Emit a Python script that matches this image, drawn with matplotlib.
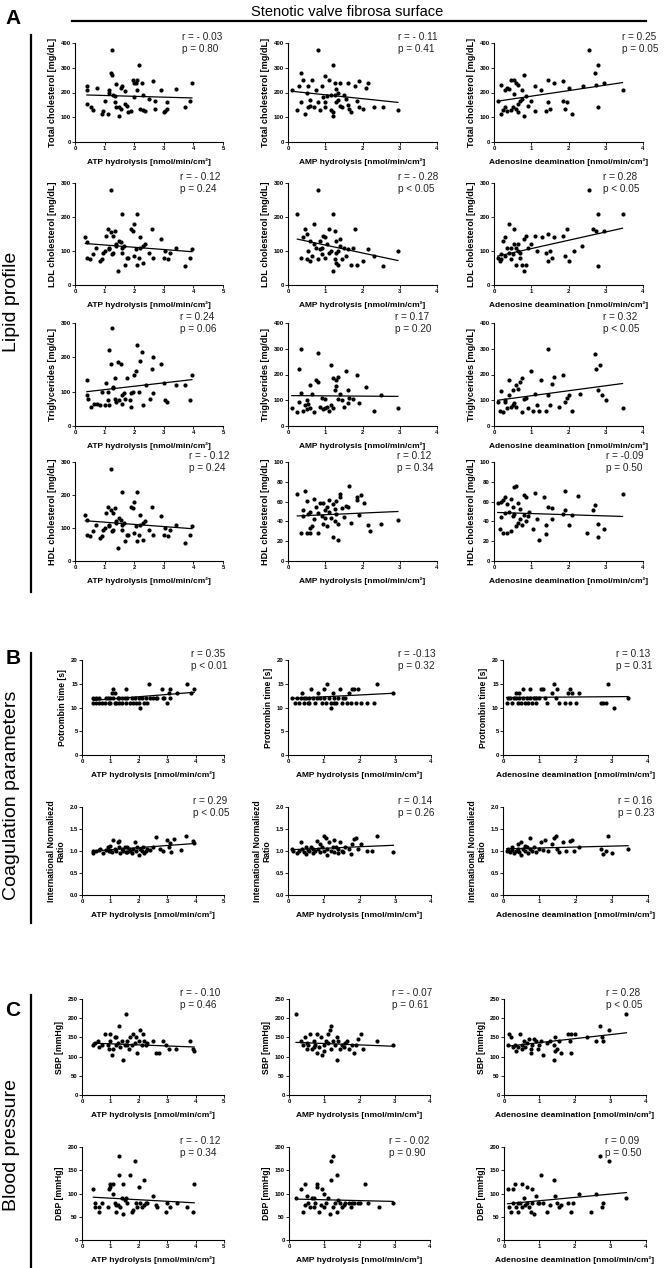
import matplotlib.pyplot as plt

# ---------------- data (x, y) per panel ----------------
# Row 1 - total cholesterol
tc_atp = [(0.4, 225), (0.4, 210), (0.4, 155), (0.55, 140), (0.6, 130), (0.75, 220), (0.9, 115), (0.95, 125),
          (1.0, 165), (1.1, 115), (1.15, 200), (1.15, 210), (1.2, 280), (1.25, 372), (1.25, 270), (1.3, 190),
          (1.35, 160), (1.35, 185), (1.4, 235), (1.4, 140), (1.5, 140), (1.5, 105), (1.55, 135), (1.6, 225),
          (1.7, 155), (1.7, 205), (1.75, 145), (1.8, 120), (1.9, 125), (1.95, 250), (2.0, 180), (2.05, 240),
          (2.1, 250), (2.1, 210), (2.15, 310), (2.2, 135), (2.25, 240), (2.3, 190), (2.3, 130), (2.35, 125),
          (2.5, 175), (2.65, 245), (2.7, 165), (2.7, 135), (2.9, 210), (3.0, 120), (3.05, 125), (3.1, 135),
          (3.1, 160), (3.4, 215), (3.7, 140), (3.9, 165), (3.95, 240), (2.0, 240), (1.55, 220)]
tc_amp = [(0.1, 210), (0.25, 130), (0.3, 225), (0.35, 280), (0.35, 160), (0.4, 250), (0.45, 115), (0.5, 200),
          (0.55, 225), (0.55, 140), (0.6, 170), (0.65, 250), (0.7, 140), (0.75, 210), (0.8, 370), (0.8, 160),
          (0.85, 130), (0.9, 225), (0.95, 180), (1.0, 265), (1.0, 140), (1.05, 185), (1.1, 250), (1.15, 190),
          (1.15, 130), (1.2, 310), (1.2, 105), (1.2, 120), (1.25, 240), (1.3, 160), (1.3, 215), (1.35, 200),
          (1.35, 170), (1.4, 240), (1.4, 145), (1.45, 140), (1.5, 190), (1.55, 175), (1.6, 240), (1.6, 150),
          (1.65, 135), (1.7, 120), (1.8, 225), (1.85, 165), (1.9, 140), (1.9, 245), (2.0, 135), (2.1, 220),
          (2.15, 240), (2.3, 140), (2.55, 140), (2.95, 130), (1.0, 160), (0.6, 145), (1.25, 190)]
tc_ada = [(0.1, 165), (0.2, 115), (0.25, 130), (0.3, 210), (0.3, 140), (0.35, 220), (0.35, 125), (0.4, 215),
          (0.45, 250), (0.45, 130), (0.5, 140), (0.55, 250), (0.55, 195), (0.6, 240), (0.6, 135), (0.65, 230),
          (0.65, 155), (0.7, 165), (0.75, 210), (0.75, 175), (0.8, 270), (0.8, 105), (0.85, 185), (0.9, 145),
          (1.0, 165), (1.1, 225), (1.1, 125), (1.25, 210), (1.4, 125), (1.45, 250), (1.45, 160), (1.5, 135),
          (1.6, 240), (1.85, 245), (1.85, 165), (1.9, 135), (1.95, 160), (2.0, 220), (2.1, 115), (2.4, 225),
          (2.55, 370), (2.7, 280), (2.8, 310), (2.8, 140), (2.75, 230), (2.95, 240), (3.45, 210), (0.2, 230),
          (0.65, 120)]

# Row 2 - LDL cholesterol
ldl_atp = [(0.35, 140), (0.4, 125), (0.4, 80), (0.5, 75), (0.6, 90), (0.7, 110), (0.85, 70), (0.9, 75),
           (0.95, 95), (1.0, 100), (1.05, 145), (1.1, 165), (1.15, 110), (1.15, 105), (1.2, 280), (1.2, 155),
           (1.25, 90), (1.3, 145), (1.3, 95), (1.35, 160), (1.4, 115), (1.4, 120), (1.45, 40), (1.5, 130),
           (1.55, 125), (1.6, 210), (1.6, 95), (1.65, 115), (1.7, 60), (1.75, 80), (1.8, 80), (1.9, 165),
           (1.95, 160), (2.0, 180), (2.0, 85), (2.05, 105), (2.1, 210), (2.1, 60), (2.15, 80), (2.2, 110),
           (2.2, 140), (2.3, 65), (2.35, 120), (2.5, 95), (2.6, 165), (2.65, 80), (2.9, 135), (3.0, 80),
           (3.05, 100), (3.15, 75), (3.2, 95), (3.4, 110), (3.7, 55), (3.9, 80), (3.95, 105), (1.6, 110),
           (2.3, 115)]
ldl_amp = [(0.25, 210), (0.35, 80), (0.4, 140), (0.45, 165), (0.5, 150), (0.5, 75), (0.55, 100), (0.6, 130),
           (0.6, 70), (0.65, 85), (0.7, 120), (0.7, 180), (0.75, 110), (0.8, 280), (0.8, 75), (0.85, 130),
           (0.85, 105), (0.9, 90), (0.95, 145), (1.0, 80), (1.0, 140), (1.05, 120), (1.1, 165), (1.1, 95),
           (1.15, 100), (1.2, 210), (1.2, 40), (1.25, 160), (1.25, 75), (1.3, 130), (1.3, 95), (1.35, 60),
           (1.35, 100), (1.4, 135), (1.4, 115), (1.45, 75), (1.5, 110), (1.55, 85), (1.6, 105), (1.7, 60),
           (1.75, 110), (1.8, 165), (1.85, 60), (2.0, 70), (2.15, 105), (2.3, 85), (2.55, 55), (2.95, 100),
           (0.9, 110), (1.3, 65)]
ldl_ada = [(0.1, 80), (0.15, 70), (0.2, 90), (0.25, 130), (0.3, 85), (0.3, 140), (0.35, 110), (0.4, 95),
           (0.4, 180), (0.45, 75), (0.45, 110), (0.5, 90), (0.55, 120), (0.55, 165), (0.6, 60), (0.6, 110),
           (0.65, 120), (0.7, 80), (0.7, 95), (0.75, 60), (0.8, 135), (0.8, 40), (0.85, 60), (0.85, 145),
           (0.9, 110), (1.0, 120), (1.1, 145), (1.15, 100), (1.3, 140), (1.4, 95), (1.45, 70), (1.45, 150),
           (1.5, 100), (1.55, 80), (1.6, 140), (1.85, 145), (1.9, 85), (1.95, 165), (2.0, 70), (2.15, 100),
           (2.35, 115), (2.55, 280), (2.65, 165), (2.75, 160), (2.8, 210), (2.8, 55), (2.95, 160), (3.45, 210),
           (0.2, 75), (0.65, 100)]

# Row 3 - triglycerides
tg_atp = [(0.4, 135), (0.4, 90), (0.45, 80), (0.55, 55), (0.65, 65), (0.75, 65), (0.85, 60), (0.9, 100),
          (1.0, 60), (1.05, 125), (1.1, 100), (1.15, 220), (1.15, 60), (1.2, 180), (1.25, 285), (1.3, 110),
          (1.3, 115), (1.35, 80), (1.35, 140), (1.4, 70), (1.45, 185), (1.5, 75), (1.55, 180), (1.6, 65),
          (1.65, 95), (1.7, 80), (1.75, 140), (1.85, 75), (1.9, 55), (1.9, 95), (1.95, 100), (2.0, 150),
          (2.05, 160), (2.1, 235), (2.15, 100), (2.2, 190), (2.25, 215), (2.3, 60), (2.4, 120), (2.55, 80),
          (2.6, 165), (2.65, 200), (2.65, 95), (2.9, 180), (3.0, 125), (3.05, 75), (3.1, 70), (3.4, 120),
          (3.7, 120), (3.9, 75), (3.95, 150), (1.1, 75), (1.6, 90)]
tg_amp = [(0.1, 70), (0.25, 55), (0.3, 220), (0.3, 95), (0.35, 300), (0.35, 130), (0.4, 60), (0.45, 80),
          (0.5, 65), (0.55, 85), (0.6, 160), (0.6, 70), (0.65, 125), (0.7, 55), (0.75, 180), (0.8, 285),
          (0.8, 170), (0.85, 75), (0.9, 110), (0.95, 65), (1.0, 70), (1.05, 75), (1.1, 60), (1.15, 235),
          (1.15, 80), (1.2, 70), (1.2, 185), (1.25, 140), (1.3, 180), (1.3, 155), (1.35, 190), (1.35, 105),
          (1.4, 125), (1.45, 100), (1.5, 75), (1.55, 215), (1.6, 90), (1.6, 140), (1.65, 110), (1.75, 105),
          (1.85, 200), (1.9, 90), (2.1, 150), (2.3, 60), (2.5, 120), (2.95, 70), (1.0, 105), (0.5, 100)]
tg_ada = [(0.1, 95), (0.15, 60), (0.2, 135), (0.25, 55), (0.3, 95), (0.35, 70), (0.4, 120), (0.4, 180),
          (0.45, 75), (0.5, 140), (0.5, 80), (0.55, 90), (0.6, 160), (0.6, 75), (0.65, 145), (0.7, 170),
          (0.75, 185), (0.75, 55), (0.8, 105), (0.85, 110), (0.9, 70), (1.0, 215), (1.05, 60), (1.1, 125),
          (1.15, 80), (1.2, 60), (1.25, 180), (1.4, 60), (1.45, 300), (1.45, 120), (1.5, 80), (1.55, 165),
          (1.6, 190), (1.75, 75), (1.85, 200), (1.9, 95), (1.95, 110), (2.0, 120), (2.1, 60), (2.3, 125),
          (2.7, 280), (2.75, 220), (2.85, 235), (2.8, 140), (2.9, 120), (3.0, 100), (3.45, 70), (0.3, 100)]

# Row 4 - HDL cholesterol (first panel is the same as the LDL one in the figure)
hdl_atp = ldl_atp
hdl_amp = [(0.25, 68), (0.35, 28), (0.4, 45), (0.4, 52), (0.45, 71), (0.5, 61), (0.5, 28), (0.55, 47),
           (0.6, 33), (0.6, 28), (0.65, 35), (0.7, 42), (0.7, 63), (0.75, 55), (0.8, 48), (0.8, 28),
           (0.85, 59), (0.9, 45), (0.95, 37), (0.95, 59), (1.0, 43), (1.05, 55), (1.05, 35), (1.1, 49),
           (1.1, 62), (1.15, 43), (1.2, 58), (1.2, 24), (1.25, 40), (1.25, 53), (1.3, 61), (1.3, 47),
           (1.35, 21), (1.35, 37), (1.4, 65), (1.4, 68), (1.45, 54), (1.5, 44), (1.55, 56), (1.6, 55),
           (1.65, 76), (1.7, 38), (1.85, 65), (1.85, 62), (1.9, 46), (1.95, 67), (2.05, 59), (2.15, 36),
           (2.2, 30), (2.5, 37), (2.95, 41), (1.0, 52), (0.6, 50)]
hdl_ada = [(0.1, 59), (0.15, 32), (0.2, 60), (0.2, 44), (0.25, 62), (0.25, 28), (0.3, 65), (0.3, 48),
           (0.35, 28), (0.35, 58), (0.4, 50), (0.45, 63), (0.45, 30), (0.5, 45), (0.5, 55), (0.55, 75),
           (0.55, 47), (0.6, 76), (0.6, 35), (0.65, 38), (0.65, 59), (0.7, 42), (0.7, 53), (0.75, 36),
           (0.8, 67), (0.8, 46), (0.85, 65), (0.85, 40), (0.9, 45), (0.95, 50), (1.05, 32), (1.1, 69),
           (1.15, 42), (1.2, 21), (1.35, 65), (1.4, 27), (1.4, 36), (1.45, 55), (1.55, 42), (1.55, 54),
           (1.85, 47), (1.9, 71), (1.9, 52), (2.0, 36), (2.1, 46), (2.25, 66), (2.5, 28), (2.65, 52),
           (2.7, 57), (2.8, 37), (2.8, 24), (2.95, 32), (3.45, 68)]

# Row 5 - prothrombin time
pt_atp = [(0.4, 12), (0.4, 11), (0.5, 11), (0.6, 12), (0.6, 11), (0.7, 11), (0.8, 11), (0.85, 12), (0.9, 12),
          (0.95, 11), (1.0, 12), (1.05, 13), (1.1, 14), (1.1, 12), (1.15, 11), (1.15, 13), (1.2, 11),
          (1.25, 12), (1.3, 12), (1.3, 11), (1.4, 12), (1.4, 11), (1.5, 12), (1.55, 14), (1.55, 11), (1.6, 12),
          (1.7, 11), (1.75, 12), (1.8, 11), (1.85, 12), (1.9, 11), (2.0, 12), (2.0, 11), (2.05, 10), (2.1, 12),
          (2.2, 11), (2.25, 12), (2.3, 11), (2.35, 15), (2.4, 12), (2.5, 12), (2.6, 12), (2.65, 12), (2.8, 14),
          (2.85, 12), (2.9, 12), (3.0, 11), (3.05, 13), (3.1, 14), (3.1, 12), (3.35, 13), (3.7, 15),
          (3.85, 13), (3.95, 14), (0.5, 12), (1.0, 11)]
pt_amp = [(0.1, 12), (0.2, 11), (0.25, 12), (0.3, 11), (0.35, 12), (0.4, 13), (0.45, 12), (0.45, 11),
          (0.5, 12), (0.55, 11), (0.6, 12), (0.65, 14), (0.7, 12), (0.75, 11), (0.8, 12), (0.85, 13), (0.9, 12),
          (0.95, 11), (1.0, 14), (1.0, 12), (1.05, 11), (1.1, 15), (1.15, 12), (1.2, 10), (1.2, 11), (1.25, 13),
          (1.3, 12), (1.35, 11), (1.4, 12), (1.45, 14), (1.5, 11), (1.55, 12), (1.6, 12), (1.65, 11), (1.7, 13),
          (1.75, 11), (1.8, 14), (1.85, 14), (1.9, 11), (1.95, 14), (2.05, 11), (2.2, 11), (2.4, 11), (2.5, 15),
          (2.95, 13), (0.6, 11), (1.3, 11)]
pt_ada = [(0.1, 11), (0.15, 12), (0.2, 12), (0.25, 11), (0.3, 12), (0.35, 13), (0.35, 12), (0.4, 11),
          (0.45, 13), (0.45, 12), (0.5, 11), (0.55, 12), (0.55, 14), (0.6, 11), (0.65, 12), (0.7, 11),
          (0.75, 14), (0.75, 12), (0.8, 11), (0.85, 12), (0.9, 11), (1.0, 12), (1.05, 14), (1.1, 14), (1.15, 12),
          (1.2, 11), (1.35, 13), (1.4, 15), (1.45, 12), (1.5, 14), (1.55, 11), (1.7, 11), (1.8, 13), (1.85, 14),
          (1.85, 11), (1.9, 13), (2.0, 11), (2.1, 13), (2.7, 11), (2.75, 11), (2.85, 11), (2.9, 15), (3.05, 10),
          (3.45, 12), (0.9, 12)]

# Row 6 - INR
inr_atp = [(0.4, 1.0), (0.4, 0.95), (0.5, 1.0), (0.6, 1.03), (0.65, 1.05), (0.75, 0.95), (0.85, 1.02),
           (0.9, 1.08), (0.95, 1.0), (1.0, 1.12), (1.05, 0.97), (1.1, 1.25), (1.15, 1.05), (1.2, 1.0),
           (1.25, 1.2), (1.3, 1.22), (1.3, 1.1), (1.35, 0.95), (1.4, 1.05), (1.45, 1.0), (1.5, 1.08),
           (1.55, 0.97), (1.6, 1.1), (1.65, 1.05), (1.7, 1.0), (1.75, 0.95), (1.8, 1.05), (1.85, 1.2),
           (1.9, 1.0), (1.95, 1.08), (2.0, 0.92), (2.05, 1.05), (2.1, 1.0), (2.15, 1.1), (2.2, 0.95),
           (2.25, 1.0), (2.3, 1.05), (2.4, 1.02), (2.5, 1.08), (2.6, 1.32), (2.75, 1.05), (2.85, 1.0),
           (3.0, 1.25), (3.05, 1.1), (3.1, 1.18), (3.15, 0.98), (3.25, 1.28), (3.5, 1.02), (3.65, 1.35),
           (3.9, 1.22), (3.95, 1.18), (1.0, 1.0), (1.6, 0.98)]
inr_amp = [(0.1, 1.05), (0.15, 1.0), (0.25, 0.95), (0.3, 1.0), (0.35, 1.2), (0.4, 1.05), (0.45, 0.97),
           (0.5, 1.1), (0.5, 0.93), (0.55, 1.03), (0.6, 1.0), (0.65, 1.1), (0.7, 1.05), (0.7, 0.95),
           (0.75, 1.0), (0.8, 1.22), (0.85, 1.05), (0.9, 0.97), (0.95, 1.1), (1.0, 1.33), (1.0, 1.0),
           (1.05, 1.3), (1.1, 1.05), (1.1, 0.92), (1.15, 1.2), (1.2, 1.0), (1.25, 1.08), (1.3, 1.25),
           (1.3, 0.97), (1.35, 1.1), (1.4, 1.05), (1.45, 1.2), (1.5, 1.0), (1.55, 0.97), (1.6, 1.1),
           (1.7, 1.05), (1.75, 0.93), (1.8, 1.15), (1.85, 1.28), (1.9, 1.3), (1.95, 1.05), (2.05, 1.15),
           (2.2, 1.0), (2.35, 1.0), (2.5, 1.33), (2.95, 0.98), (0.9, 1.15), (1.4, 0.95)]
inr_ada = [(0.1, 1.0), (0.15, 1.05), (0.2, 0.97), (0.25, 1.02), (0.25, 1.08), (0.3, 0.95), (0.35, 1.0),
           (0.4, 1.15), (0.4, 1.05), (0.45, 0.98), (0.5, 1.2), (0.5, 0.92), (0.55, 1.05), (0.6, 1.0),
           (0.65, 1.1), (0.7, 0.95), (0.75, 1.3), (0.75, 1.05), (0.8, 1.0), (0.85, 1.1), (0.9, 0.97),
           (1.0, 1.05), (1.05, 1.2), (1.1, 1.02), (1.15, 1.25), (1.25, 1.0), (1.35, 1.15), (1.4, 1.3),
           (1.45, 1.33), (1.5, 1.05), (1.55, 0.97), (1.65, 1.2), (1.75, 1.0), (1.85, 1.22), (1.9, 1.25),
           (1.95, 1.0), (2.1, 1.1), (2.7, 1.05), (2.75, 0.93), (2.85, 1.0), (2.9, 1.33), (3.0, 0.95),
           (3.45, 1.05), (0.6, 1.12)]

# Row 7 - systolic blood pressure
sbp_atp = [(0.4, 130), (0.45, 135), (0.55, 140), (0.6, 125), (0.7, 130), (0.8, 160), (0.9, 130), (0.95, 120),
           (1.0, 160), (1.0, 140), (1.05, 105), (1.1, 120), (1.15, 150), (1.2, 130), (1.25, 135), (1.3, 180),
           (1.35, 125), (1.4, 140), (1.45, 90), (1.5, 130), (1.55, 210), (1.6, 140), (1.65, 120), (1.7, 150),
           (1.75, 130), (1.8, 160), (1.85, 135), (1.9, 150), (1.95, 110), (2.0, 140), (2.05, 170), (2.1, 130),
           (2.15, 160), (2.2, 140), (2.25, 130), (2.5, 140), (2.6, 110), (2.7, 110), (2.85, 140), (2.95, 130),
           (3.05, 120), (3.3, 120), (3.8, 140), (3.9, 120), (3.95, 115), (1.2, 150), (1.6, 130), (2.3, 135)]
sbp_amp = [(0.2, 210), (0.35, 140), (0.4, 130), (0.45, 150), (0.5, 120), (0.5, 135), (0.55, 130), (0.6, 160),
           (0.65, 120), (0.7, 140), (0.75, 130), (0.8, 160), (0.8, 110), (0.85, 125), (0.9, 150), (0.95, 105),
           (1.0, 130), (1.0, 115), (1.05, 140), (1.1, 160), (1.15, 170), (1.2, 180), (1.2, 120), (1.25, 140),
           (1.3, 130), (1.35, 90), (1.35, 150), (1.4, 140), (1.45, 120), (1.5, 130), (1.55, 125), (1.6, 135),
           (1.65, 140), (1.7, 120), (1.8, 130), (1.85, 110), (1.9, 130), (1.95, 145), (2.05, 160), (2.1, 120),
           (2.5, 140), (2.95, 130), (0.7, 125), (1.1, 135)]
sbp_ada = [(0.1, 130), (0.15, 160), (0.2, 150), (0.25, 125), (0.3, 130), (0.35, 115), (0.4, 125), (0.45, 160),
           (0.5, 130), (0.5, 120), (0.55, 140), (0.6, 125), (0.65, 135), (0.7, 145), (0.75, 120), (0.75, 110),
           (0.8, 130), (0.85, 145), (0.9, 140), (0.95, 120), (1.0, 130), (1.05, 140), (1.1, 105), (1.2, 135),
           (1.3, 140), (1.4, 130), (1.45, 150), (1.5, 120), (1.55, 140), (1.6, 110), (1.4, 90), (1.8, 160),
           (1.85, 140), (1.9, 160), (2.0, 160), (2.35, 150), (2.6, 140), (2.7, 180), (2.75, 150), (2.8, 140),
           (2.95, 170), (3.45, 210), (1.45, 115), (1.9, 110)]

# Row 8 - diastolic blood pressure
dbp_atp = [(0.4, 110), (0.45, 80), (0.45, 70), (0.6, 60), (0.6, 70), (0.7, 80), (0.9, 70), (0.95, 110),
           (1.0, 120), (1.0, 115), (1.1, 120), (1.1, 100), (1.15, 80), (1.2, 60), (1.25, 75), (1.3, 180),
           (1.3, 140), (1.35, 70), (1.4, 90), (1.45, 120), (1.45, 55), (1.5, 85), (1.55, 90), (1.6, 80),
           (1.7, 140), (1.75, 60), (1.8, 65), (1.85, 170), (1.9, 80), (1.95, 70), (2.0, 115), (2.05, 80),
           (2.1, 70), (2.2, 130), (2.2, 75), (2.3, 80), (2.5, 95), (2.6, 75), (2.65, 70), (2.95, 60), (3.0, 80),
           (3.1, 70), (3.35, 80), (3.7, 70), (3.9, 60), (3.95, 120), (1.2, 75), (2.25, 80)]
dbp_amp = [(0.2, 90), (0.35, 110), (0.4, 60), (0.45, 120), (0.45, 75), (0.5, 95), (0.55, 80), (0.6, 70),
           (0.65, 90), (0.7, 70), (0.75, 80), (0.8, 120), (0.8, 115), (0.85, 60), (0.9, 75), (0.95, 110),
           (1.0, 70), (1.05, 80), (1.1, 90), (1.15, 55), (1.2, 130), (1.2, 170), (1.25, 180), (1.25, 70),
           (1.3, 80), (1.35, 140), (1.35, 60), (1.4, 85), (1.45, 80), (1.5, 70), (1.55, 75), (1.6, 80),
           (1.7, 80), (1.75, 70), (1.8, 80), (1.85, 80), (1.95, 80), (2.0, 80), (2.15, 120), (2.25, 80),
           (2.55, 70), (2.95, 80), (1.0, 100), (0.7, 90)]
dbp_ada = [(0.1, 110), (0.15, 70), (0.2, 60), (0.25, 110), (0.25, 80), (0.3, 120), (0.35, 70), (0.4, 60),
           (0.45, 80), (0.5, 120), (0.5, 70), (0.55, 90), (0.6, 75), (0.65, 115), (0.65, 80), (0.7, 70),
           (0.75, 60), (0.8, 110), (0.8, 80), (0.85, 55), (0.9, 95), (0.95, 80), (1.05, 140), (1.1, 80),
           (1.2, 60), (1.3, 75), (1.4, 130), (1.45, 95), (1.5, 80), (1.55, 70), (1.6, 75), (1.8, 80), (1.9, 60),
           (1.95, 80), (2.1, 100), (2.45, 60), (2.6, 100), (2.7, 180), (2.75, 70), (2.8, 80), (2.95, 170),
           (3.45, 90), (0.4, 80), (1.0, 80)]

# regression line ends (y at smallest x, y at largest x)
fit_tc = [(190, 178), (205, 160), (165, 240)]
fit_ldl = [(122, 98), (135, 72), (85, 167)]
fit_tg = [(100, 135), (118, 115), (100, 165)]
fit_hdl = [(122, 98), (45.5, 50), (49, 45)]
fit_pt = [(11.5, 13.2), (11.9, 13.0), (12.1, 12.3)]
fit_inr = [(1.0, 1.17), (1.03, 1.13), (1.05, 1.12)]
fit_sbp = [(135, 125), (137, 127), (127, 162)]
fit_dbp = [(92, 80), (88, 83), (78, 102)]

# r / p labels
stats = [
    ['r = - 0.03\np = 0.80', 'r = - 0.11\np = 0.41', 'r = 0.25\np = 0.05'],
    ['r = - 0.12\np = 0.24', 'r = - 0.28\np < 0.05', 'r = 0.28\np < 0.05'],
    ['r = 0.24\np = 0.06', 'r = 0.17\np = 0.20', 'r = 0.32\np < 0.05'],
    ['r = - 0.12\np = 0.24', 'r = 0.12\np = 0.34', 'r = -0.09\np = 0.50'],
    ['r = 0.35\np < 0.01', 'r = -0.13\np = 0.32', 'r = 0.13\np = 0.31'],
    ['r = 0.29\np < 0.05', 'r = 0.14\np = 0.26', 'r = 0.16\np = 0.23'],
    ['r = - 0.10\np = 0.46', 'r = - 0.07\np = 0.61', 'r = 0.28\np < 0.05'],
    ['r = - 0.12\np = 0.34', 'r = - 0.02\np = 0.90', 'r = 0.09\np = 0.50'],
]

ylabels = [
    ['Total cholesterol [mg/dL]'] * 3,
    ['LDL cholesterol [mg/dL]'] * 3,
    ['Triglycerides [mg/dL]'] * 3,
    ['HDL cholesterol [mg/dL]'] * 3,
    ['Potrombin time [s]', 'Protrombin time [s]', 'Protrombin time [s]'],
    ['International Normaliezd\nRatio'] * 3,
    ['SBP [mmHg]'] * 3,
    ['DBP [mmHg]'] * 3,
]
xlabels = ['ATP hydrolysis [nmol/min/cm²]', 'AMP hydrolysis [nmol/min/cm²]',
           'Adenosine deamination [nmol/min/cm²]']

# y ticks per panel
yticks = [
    [range(0, 401, 100)] * 3,
    [range(0, 301, 100)] * 3,
    [range(0, 301, 100), range(0, 401, 100), range(0, 401, 100)],
    [range(0, 301, 100), range(0, 101, 20), range(0, 101, 20)],
    [range(0, 21, 5)] * 3,
    [[0.0, 0.5, 1.0, 1.5, 2.0]] * 3,
    [range(0, 251, 50)] * 3,
    [range(0, 201, 50)] * 3,
]
xmax = [5, 4, 4]

panels = [[tc_atp, tc_amp, tc_ada], [ldl_atp, ldl_amp, ldl_ada], [tg_atp, tg_amp, tg_ada],
          [hdl_atp, hdl_amp, hdl_ada], [pt_atp, pt_amp, pt_ada], [inr_atp, inr_amp, inr_ada],
          [sbp_atp, sbp_amp, sbp_ada], [dbp_atp, dbp_amp, dbp_ada]]
fits = [fit_tc, fit_ldl, fit_tg, fit_hdl, fit_pt, fit_inr, fit_sbp, fit_dbp]

# ---------------- layout (pixels) ----------------
W, H = 668, 1268
rows_px = [(43, 142), (183, 285), (323, 426), (462, 561), (660, 755), (807, 895), (999, 1095), (1147, 1240)]
cols_a = [(75, 223), (288, 437), (494, 643)]
cols_b = [(82, 224), (288, 431), (503, 648)]
cols_c = [(82, 224), (289, 430), (504, 646)]
row_cols = [cols_a] * 4 + [cols_b] * 2 + [cols_c] * 2
stat_x = [[0.72, 0.74, 0.86], [0.71, 0.74, 0.73], [0.71, 0.72, 0.73], [0.77, 0.73, 0.75],
          [0.77, 0.77, 0.78], [0.78, 0.77, 0.79], [0.69, 0.73, 0.72], [0.69, 0.71, 0.71]]

narrow = ['Liberation Sans Narrow', 'Liberation Sans', 'DejaVu Sans']
plain = ['Liberation Sans', 'DejaVu Sans']

fig = plt.figure(figsize=(W / 100, H / 100), dpi=100)

for r in range(8):
    top, bot = rows_px[r]
    for c in range(3):
        left, right = row_cols[r][c]
        ax = fig.add_axes([left / W, 1 - bot / H, (right - left) / W, (bot - top) / H])
        pts = panels[r][c]
        xs = [p[0] for p in pts]
        ys = [p[1] for p in pts]
        ax.scatter(xs, ys, s=9, color='black', linewidths=0, zorder=3)
        ax.plot([min(xs), max(xs)], fits[r][c], color='black', lw=0.9, zorder=2)

        yt = list(yticks[r][c])
        ax.set_xlim(0, xmax[c])
        ax.set_ylim(0, yt[-1])
        ax.set_xticks(range(0, xmax[c] + 1))
        ax.set_yticks(yt)
        if r == 5:
            ax.set_yticklabels(['%.1f' % v for v in yt])
        for s in ['top', 'right']:
            ax.spines[s].set_visible(False)
        for s in ['left', 'bottom']:
            ax.spines[s].set_linewidth(0.8)
        ax.tick_params(length=2, width=0.6, pad=1, labelsize=4.3)
        for lab in ax.get_xticklabels() + ax.get_yticklabels():
            lab.set_family(narrow)
            lab.set_fontweight('bold')
        for sp in ax.spines.values():
            sp.set_clip_on(False)

        ax.set_xlabel(xlabels[c], fontsize=6.0, fontweight='bold', family=narrow, labelpad=5)
        ax.set_ylabel(ylabels[r][c], fontsize=6.6 if r < 4 else 6.2, fontweight='bold',
                      family=narrow, labelpad=3, linespacing=1.0)

        ax.text(stat_x[r][c], 1.0, stats[r][c], transform=ax.transAxes, fontsize=7.2,
                family=narrow, va='center', ha='left', linespacing=1.2, color='#222222')

# title and section decorations
fig.text(347 / W, 1 - 12 / H, 'Stenotic valve fibrosa surface', fontsize=10.5, family=plain,
         ha='center', va='center')
fig.add_artist(plt.Line2D([72 / W, 646 / W], [1 - 21 / H, 1 - 21 / H], color='black', lw=1.6))

sections = [('A', 19, 'Lipid profile', 302, 35, 592),
            ('B', 658, 'Coagulation parameters', 795, 653, 923),
            ('C', 1010, 'Blood pressure', 1145, 995, 1268)]
for letter, ly, name, ny, y0, y1 in sections:
    fig.text(13 / W, 1 - ly / H, letter, fontsize=15, fontweight='bold', family=plain,
             ha='center', va='center')
    fig.text(12 / W, 1 - ny / H, name, fontsize=14, family=plain, rotation=90,
             ha='center', va='center')
    fig.add_artist(plt.Line2D([31 / W, 31 / W], [1 - y0 / H, 1 - y1 / H], color='black', lw=1.6))

fig.savefig('out.png', dpi=100)
